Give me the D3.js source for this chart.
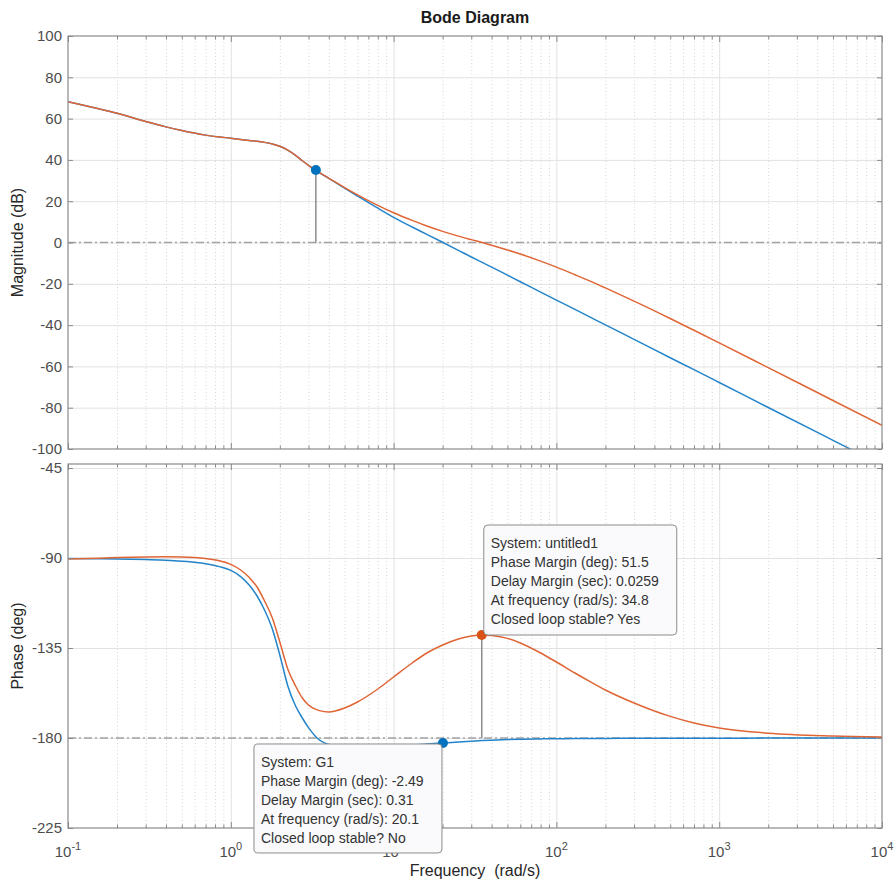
<!DOCTYPE html>
<html><head><meta charset="utf-8">
<script src="https://cdn.jsdelivr.net/npm/d3@7"></script>
<style>
body{margin:0;background:#fff;}
svg{display:block;font-family:"Liberation Sans",Arial,Helvetica,sans-serif;}
</style></head><body>
<svg id="chart" width="896" height="885"></svg>
<script>
// ---------------- data ----------------
const freq = [0.1,0.15,0.2,0.3,0.4,0.5,0.7,0.85,
  1,1.15,1.3,1.45,1.6,1.8,2,2.25,2.5,2.75,3,3.5,4,5,6,8,
  10,13,16,20,25,30,35,40,50,60,80,
  100,130,160,200,300,500,700,
  1000,2000,5000,10000];

const magUntitled = [68.2,65,62.6,58.6,56,54.2,52,51.1,
  50.5,49.9,49.4,49,48.5,47.7,46.6,44.6,42.2,39.6,37.4,33.8,31.1,26.6,23.1,18.0,
  14.4,10.7,8.0,5.4,3.1,1.4,0,-1.3,-3.6,-5.6,-9.0,
  -11.9,-15.6,-18.6,-22.0,-28.4,-36.8,-42.5,
  -48.6,-60.6,-76.5,-88.5];

const magG1 = [68.2,65,62.6,58.6,56,54.2,52,51.1,
  50.5,49.9,49.4,49,48.5,47.7,46.6,44.6,42.2,39.6,37.4,33.8,31.1,26.3,22.5,16.6,
  12.2,7.5,3.95,0.1,-3.8,-7.0,-9.6,-11.9,-15.8,-19.0,-24.0,
  -27.9,-32.4,-36.0,-39.9,-46.9,-55.8,-61.6,
  -67.8,-79.9,-95.8,-107.8];

const phaseUntitled = [-90.5,-90.1,-89.8,-89.5,-89.4,-89.5,-90.3,-91.4,
  -93.2,-96,-99.8,-104.5,-111,-120,-132,-146,-154,-160,-163.5,-166.3,-167,-165,-162,-155.5,
  -149.5,-142.5,-137.5,-133.5,-130.5,-129,-128.5,-128.8,-130.2,-132.5,-137.5,
  -142,-147.5,-151.7,-156,-162.5,-169.2,-172.5,
  -175,-177.6,-179,-179.5];

const phaseG1 = [-90.3,-90.4,-90.5,-90.8,-91.1,-91.6,-92.9,-94.3,
  -96.2,-99.3,-103.6,-109,-115.5,-125.5,-138.5,-154.5,-164,-170,-174.8,-181,-183.2,-184.2,-184.4,-184.3,
  -184,-183.5,-183,-182.5,-182,-181.6,-181.3,-181.1,-180.8,-180.6,-180.45,
  -180.35,-180.3,-180.25,-180.2,-180.15,-180.1,-180.1,
  -180.1,-180.05,-180.05,-180];

const magTicks = [100,80,60,40,20,0,-20,-40,-60,-80,-100];
const phaseTicks = [-45,-90,-135,-180,-225];
const decadeExps = [-1,0,1,2,3,4];

// margin markers
const gmG1 = {freq: 3.33, mag: 35.1};
const pmUntitled = {freq: 34.8, phase: -128.5};
const pmG1 = {freq: 20.1, phase: -182.49};

const tipUntitled = ["System: untitled1","Phase Margin (deg): 51.5","Delay Margin (sec): 0.0259","At frequency (rad/s): 34.8","Closed loop stable? Yes"];
const tipG1 = ["System: G1","Phase Margin (deg): -2.49","Delay Margin (sec): 0.31","At frequency (rad/s): 20.1","Closed loop stable? No"];

const colBlue = "#2484c9", colOrange = "#df6535";
const dotBlue = "#0072BD", dotOrange = "#D95319";

// ---------------- layout ----------------
const L = 68, R = 882;
const magTop = 36, magBot = 449, phTop = 464, phBot = 828;
const svg = d3.select("#chart");

const x = d3.scaleLog().domain([0.1, 1e4]).range([L, R]);
const yMag = d3.scaleLinear().domain([-100, 100]).range([magBot, magTop]);
const yPh = d3.scaleLinear().domain([-225, -43]).range([phBot, phTop]);

const majorX = decadeExps.map(e => Math.pow(10, e));
const minorX = [];
decadeExps.slice(0, -1).forEach(e => { for (let k = 2; k <= 9; k++) minorX.push(k * Math.pow(10, e)); });

const axisCol = "#8a8a8a";

function panel(y, top, bot, gridTicks, id) {
  const h = bot - top;
  svg.append("clipPath").attr("id", id).append("rect")
    .attr("x", L).attr("y", top).attr("width", R - L).attr("height", h);
  const gMin = svg.append("g").attr("transform", `translate(0,${bot})`)
    .call(d3.axisBottom(x).tickValues(minorX).tickSize(-h).tickFormat(""));
  gMin.select(".domain").remove();
  gMin.selectAll("line").attr("stroke", "#d4d4d4").attr("stroke-dasharray", "1,2.5");
  const gMaj = svg.append("g").attr("transform", `translate(0,${bot})`)
    .call(d3.axisBottom(x).tickValues(majorX.slice(1, -1)).tickSize(-h).tickFormat(""));
  gMaj.select(".domain").remove();
  gMaj.selectAll("line").attr("stroke", "#e2e2e2");
  const gH = svg.append("g").attr("transform", `translate(${L},0)`)
    .call(d3.axisLeft(y).tickValues(gridTicks).tickSize(-(R - L)).tickFormat(""));
  gH.select(".domain").remove();
  gH.selectAll("line").attr("stroke", "#e2e2e2");
}

function frame(y, top, bot, yTicks) {
  const axes = [];
  const gl = svg.append("g").attr("transform", `translate(${L},0)`)
    .call(d3.axisLeft(y).tickValues(yTicks).tickSize(-5).tickPadding(6).tickFormat(d => String(d)));
  gl.selectAll("text").attr("font-size", 15).attr("fill", "#4d4d4d").attr("font-family", "Liberation Sans, Arial, sans-serif");
  axes.push(gl);
  const gr = svg.append("g").attr("transform", `translate(${R},0)`)
    .call(d3.axisRight(y).tickValues(yTicks).tickSize(-5).tickFormat(""));
  axes.push(gr);
  [[bot, d3.axisBottom], [top, d3.axisTop]].forEach(([yy, ax]) => {
    axes.push(svg.append("g").attr("transform", `translate(0,${yy})`)
      .call(ax(x).tickValues(majorX).tickSize(-6).tickFormat("")));
    axes.push(svg.append("g").attr("transform", `translate(0,${yy})`)
      .call(ax(x).tickValues(minorX).tickSize(-3.5).tickFormat("")));
  });
  axes.forEach(g => { g.select(".domain").remove(); g.selectAll("line").attr("stroke", axisCol); });
  svg.append("rect").attr("x", L).attr("y", top).attr("width", R - L).attr("height", bot - top)
    .attr("fill", "none").attr("stroke", axisCol).attr("stroke-width", 1.2);
}

panel(yMag, magTop, magBot, magTicks.slice(1, -1), "clipMag");
panel(yPh, phTop, phBot, phaseTicks.slice(0, -1), "clipPh");

// reference dash-dot lines
svg.append("line").attr("x1", L).attr("x2", R).attr("y1", yMag(0)).attr("y2", yMag(0))
  .attr("stroke", "#a3a3a3").attr("stroke-width", 1.5).attr("stroke-dasharray", "8,3,2,3");
svg.append("line").attr("x1", L).attr("x2", R).attr("y1", yPh(-180)).attr("y2", yPh(-180))
  .attr("stroke", "#a3a3a3").attr("stroke-width", 1.5).attr("stroke-dasharray", "8,3,2,3");

// curves
function curve(vals, y, col, clip) {
  const line = d3.line().x((d, i) => x(freq[i])).y(d => y(d)).curve(d3.curveMonotoneX);
  svg.append("path").datum(vals).attr("d", line).attr("fill", "none")
    .attr("stroke", col).attr("stroke-width", 1.5).attr("clip-path", `url(#${clip})`);
}
curve(magG1, yMag, colBlue, "clipMag");
curve(magUntitled, yMag, colOrange, "clipMag");
curve(phaseG1, yPh, colBlue, "clipPh");
curve(phaseUntitled, yPh, colOrange, "clipPh");

// stems
const stemCol = "#8c8c8c";
svg.append("line").attr("x1", x(gmG1.freq)).attr("x2", x(gmG1.freq))
  .attr("y1", yMag(gmG1.mag)).attr("y2", yMag(0)).attr("stroke", stemCol).attr("stroke-width", 1.5);
svg.append("line").attr("x1", x(pmUntitled.freq)).attr("x2", x(pmUntitled.freq))
  .attr("y1", yPh(pmUntitled.phase)).attr("y2", yPh(-180)).attr("stroke", stemCol).attr("stroke-width", 1.5);
svg.append("line").attr("x1", x(pmG1.freq)).attr("x2", x(pmG1.freq))
  .attr("y1", yPh(pmG1.phase)).attr("y2", yPh(-180)).attr("stroke", stemCol).attr("stroke-width", 1.5);

frame(yMag, magTop, magBot, magTicks);
frame(yPh, phTop, phBot, phaseTicks);

// markers
svg.append("circle").attr("cx", x(gmG1.freq)).attr("cy", yMag(gmG1.mag)).attr("r", 5).attr("fill", dotBlue);
svg.append("circle").attr("cx", x(pmUntitled.freq)).attr("cy", yPh(pmUntitled.phase)).attr("r", 5).attr("fill", dotOrange);
svg.append("circle").attr("cx", x(pmG1.freq)).attr("cy", yPh(pmG1.phase)).attr("r", 5).attr("fill", dotBlue);

// x tick labels with superscripts
decadeExps.forEach(e => {
  const t = svg.append("text").attr("x", x(Math.pow(10, e))).attr("y", 857)
    .attr("text-anchor", "middle").attr("fill", "#4d4d4d").attr("font-size", 15);
  t.append("tspan").text("10");
  t.append("tspan").attr("dy", -7).attr("font-size", 11).text(String(e));
});

// titles & labels
svg.append("text").attr("x", (L + R) / 2).attr("y", 23).attr("text-anchor", "middle")
  .attr("font-weight", "bold").attr("font-size", 16).attr("fill", "#1a1a1a").text("Bode Diagram");
svg.append("text").attr("transform", `translate(23,${(magTop + magBot) / 2}) rotate(-90)`)
  .attr("text-anchor", "middle").attr("font-size", 16).attr("fill", "#262626").text("Magnitude (dB)");
svg.append("text").attr("transform", `translate(23,${(phTop + phBot) / 2}) rotate(-90)`)
  .attr("text-anchor", "middle").attr("font-size", 16).attr("fill", "#262626").text("Phase (deg)");
svg.append("text").attr("x", (L + R) / 2).attr("y", 876).attr("text-anchor", "middle")
  .attr("font-size", 16).attr("fill", "#262626").attr("xml:space", "preserve").text("Frequency  (rad/s)");

// datatips
function tip(lines, bx, by, w, h) {
  const g = svg.append("g");
  g.append("rect").attr("x", bx).attr("y", by).attr("width", w).attr("height", h).attr("rx", 4)
    .attr("fill", "#fafafc").attr("stroke", "#8c8c8c").attr("stroke-width", 1);
  lines.forEach((s, i) => {
    g.append("text").attr("x", bx + 7).attr("y", by + 23 + i * 19).attr("font-size", 14)
      .attr("fill", "#333").text(s);
  });
}
tip(tipUntitled, x(pmUntitled.freq) + 2, yPh(pmUntitled.phase) - 110, 193, 110);
tip(tipG1, x(pmG1.freq) - 189, yPh(pmG1.phase) + 1, 188, 109);
</script>
</body></html>
